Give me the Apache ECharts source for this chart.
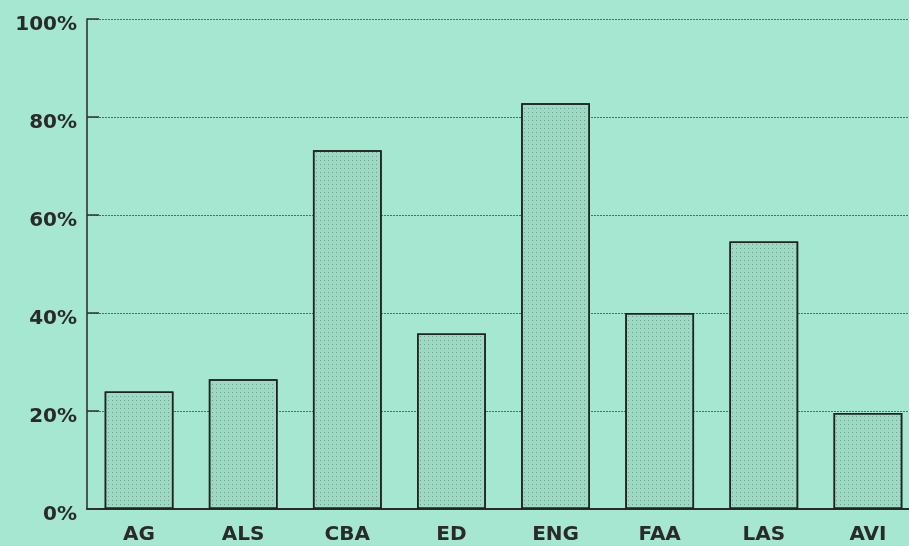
<!DOCTYPE html>
<html><head><meta charset="utf-8">
<script src="https://cdn.jsdelivr.net/npm/echarts@6/dist/echarts.min.js"></script>
<style>html,body{margin:0;padding:0;background:#a5e7d1;overflow:hidden;width:909px;height:546px;}#c{width:920px;height:546px;}</style>
</head><body><div id="c"></div>
<script>
const categories = ['AG','ALS','CBA','ED','ENG','FAA','LAS','AVI'];
const values = [24, 26.5, 73.2, 35.8, 82.8, 40, 54.6, 19.6];
const yTicks = [0, 20, 40, 60, 80, 100];

const chart = echarts.init(document.getElementById('c'));
chart.setOption({
  backgroundColor: '#a5e7d1',
  animation: false,
  grid: {left: 87, right: 0, top: 19, bottom: 37},
  xAxis: {
    type: 'category', data: categories,
    axisLine: {lineStyle: {color: '#2a2a2a', width: 2}},
    axisTick: {show: true, inside: true, alignWithLabel: true, length: 10, lineStyle: {color: '#333', width: 1}},
    axisLabel: {color: '#2a2a2a', fontFamily: 'DejaVu Sans', fontWeight: 'bold', fontSize: 20, margin: 16}
  },
  yAxis: {
    type: 'value', min: 0, max: 100, interval: 20,
    axisLine: {show: true, lineStyle: {color: '#2a2a2a', width: 1.5}},
    axisTick: {show: true, inside: true, length: 12, lineStyle: {color: '#333', width: 1.5}},
    axisLabel: {margin: 10,
      formatter: v => yTicks.includes(v) ? '{v|' + v + '%}' : '',
      rich: {v: {color: '#2a2a2a', fontFamily: 'DejaVu Sans', fontWeight: 'bold', fontSize: 20, padding: [11, 0, 0, 0]}}},
    splitLine: {show: true, lineStyle: {color: '#556b63', type: [2, 1], width: 1}}
  },
  series: [{
    type: 'bar', data: values, barCategoryGap: '34%',
    itemStyle: {
      color: '#9cdac3', borderColor: '#222', borderWidth: 1.5,
      decal: {symbol: 'rect', symbolSize: 1, dashArrayX: [1, 3], dashArrayY: [1, 3], color: 'rgba(60,90,80,0.45)', rotation: 0}
    }
  }]
});
</script></body></html>
